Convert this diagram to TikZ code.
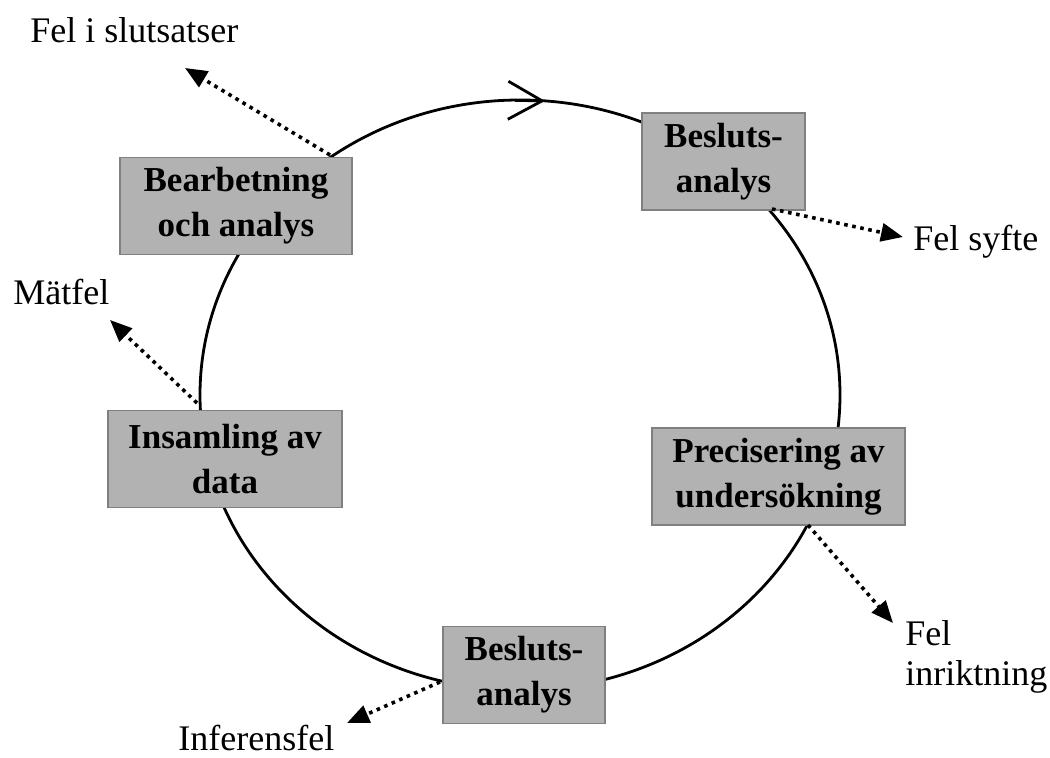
\documentclass[tikz,border=0pt]{standalone}
\usepackage{fontspec}
\setmainfont{Liberation Serif}
\usetikzlibrary{arrows.meta}
\begin{document}
\begin{tikzpicture}
        [x=0.5pt,y=-0.5pt,
        font=\fontsize{18}{22.5}\selectfont,
        stage/.style={draw=black!50,fill=black!30,semithick,align=center,
          font=\fontsize{17.5}{22.5}\selectfont\bfseries,inner sep=0pt,minimum height=48.5pt},
        lbl/.style={inner sep=0pt},
        ring/.style={line width=1.4pt},
        err/.style={-{Triangle[length=11pt,width=9pt]},line width=1.8pt,dash pattern=on 1.8pt off 2.3pt}]
        \useasboundingbox (0,0) rectangle (1050,758);
        % the cycle
        \draw[ring] (520,395) ellipse [x radius=160pt,y radius=147.5pt];
        \draw[ring,-{Straight Barb[length=17pt,width=19pt]}] (515,100.4) -- (545,100.9);
        % stages
        \node (bearb) at (236,206) [stage,minimum width=116pt] {Bearbetning\\och analys};
        \node (beslut1) at (723.5,161.5) [stage,minimum width=81.5pt] {Besluts-\\analys};
        \node (insam) at (225,459) [stage,minimum width=117pt] {Insamling av\\data};
        \node (precis) at (778.5,476.5) [stage,minimum width=126.5pt] {Precisering av\\undersökning};
        \node (beslut2) at (524,675) [stage,minimum width=81pt] {Besluts-\\analys};
        % errors
        \node (slut) at (30,43) [lbl,anchor=base west] {Fel i slutsatser};
        \node (syfte) at (913,251) [lbl,anchor=base west] {Fel syfte};
        \node (matfel) at (13,305) [lbl,anchor=base west] {Mätfel};
        \node (inrikt) at (905,657) [lbl,anchor=west,align=left,font=\fontsize{18}{20}\selectfont] {Fel\\inriktning};
        \node (infer) at (178,750) [lbl,anchor=base west] {Inferensfel};
        \coordinate (s1) at (330,155);
        \coordinate (t1) at (185,68);
        \coordinate (s2) at (772,209);
        \coordinate (t2) at (903,237);
        \coordinate (s3) at (197,403);
        \coordinate (t3) at (110,320);
        \coordinate (s4) at (808,525);
        \coordinate (t4) at (893,623);
        \coordinate (s5) at (440,682);
        \coordinate (t5) at (347,723);
        \draw[err] (s1) -- (t1);
        \draw[err] (s2) -- (t2);
        \draw[err] (s3) -- (t3);
        \draw[err] (s4) -- (t4);
        \draw[err] (s5) -- (t5);
\end{tikzpicture}
\end{document}
